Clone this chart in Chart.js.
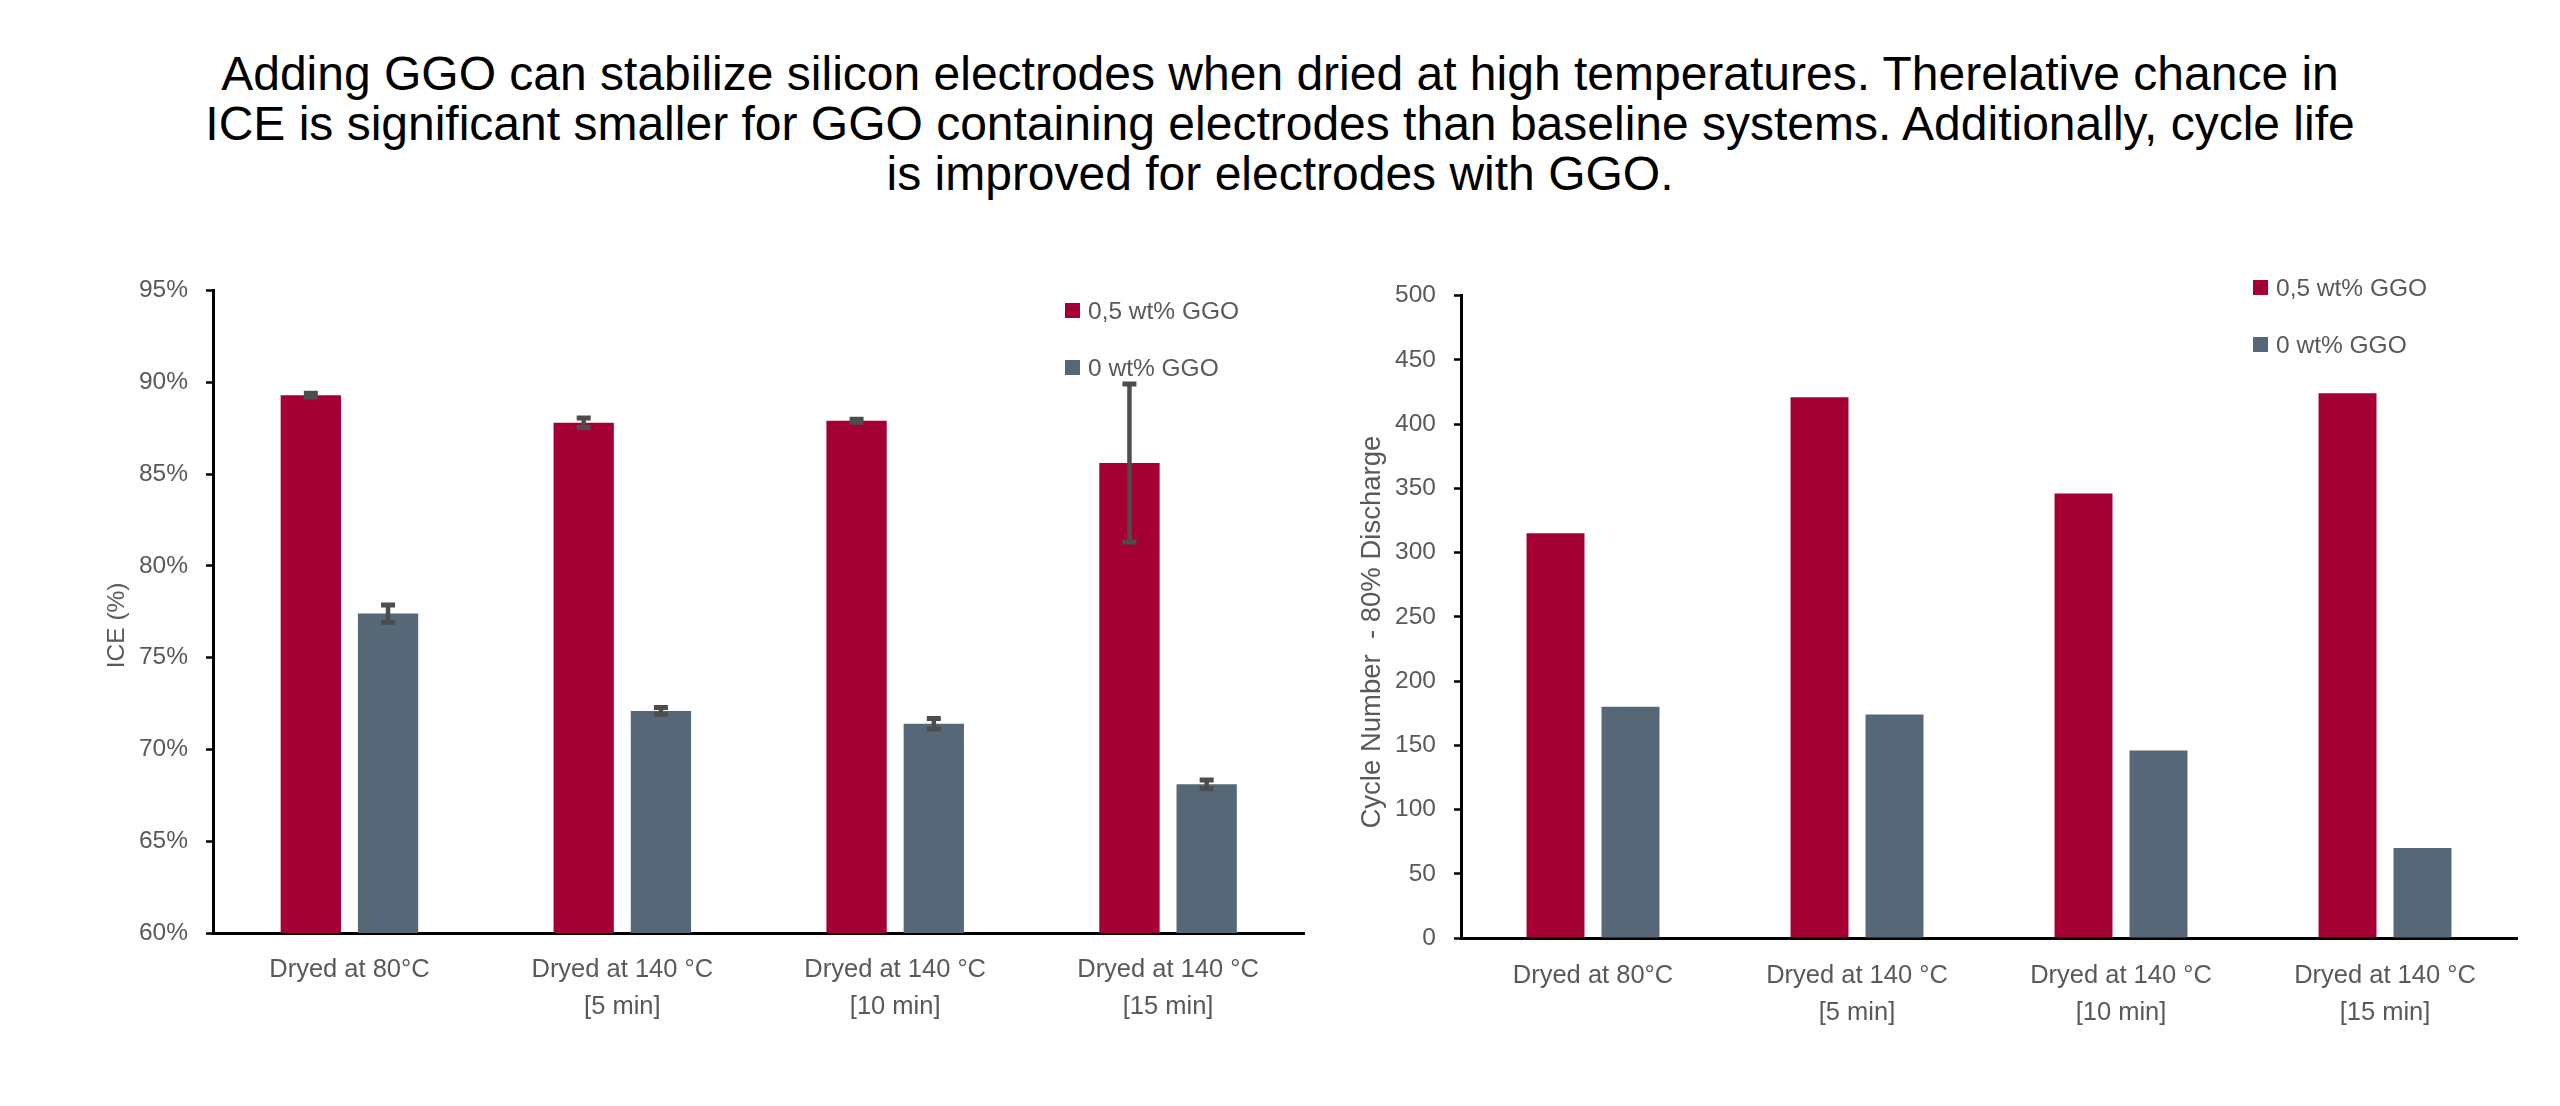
<!DOCTYPE html>
<html><head><meta charset="utf-8">
<script src="https://cdn.jsdelivr.net/npm/chart.js@4.4.1/dist/chart.umd.min.js"></script>
<style>
html,body{margin:0;padding:0;background:#fff;width:2560px;height:1106px;overflow:hidden;position:relative;font-family:"Liberation Sans",Arial,sans-serif;}
#title{position:absolute;left:0;top:48.5px;width:2560px;text-align:center;font-size:48px;line-height:50px;color:#000;}
canvas{position:absolute;}
.lg{position:absolute;white-space:nowrap;font-size:24.5px;color:#595959;line-height:30px;transform:translateY(-50%);}
.lg span.sw{display:inline-block;width:15px;height:15px;margin-right:8px;vertical-align:middle;position:relative;top:-2px;}
</style></head>
<body>
<div id="title">Adding GGO can stabilize silicon electrodes when dried at high temperatures. Therelative chance in<br>ICE is significant smaller for GGO containing electrodes than baseline systems. Additionally, cycle life<br>is improved for electrodes with GGO.</div>
<canvas id="c1" width="1270" height="810" style="left:60px;top:250px;width:1270px;height:810px"></canvas>
<canvas id="c2" width="1230" height="810" style="left:1330px;top:250px;width:1230px;height:810px"></canvas>
<script>
// ---- data ----
const categories = [['Dryed at 80°C'], ['Dryed at 140 °C', '[5 min]'], ['Dryed at 140 °C', '[10 min]'], ['Dryed at 140 °C', '[15 min]']];
const seriesNames = ['0,5 wt% GGO', '0 wt% GGO'];
const seriesColors = ['#A50034', '#566878'];
const iceGGO = [89.3, 87.8, 87.9, 85.6];
const iceGGOErr = [0.1, 0.26, 0.08, 4.3];
const iceBase = [77.4, 72.1, 71.4, 68.1];
const iceBaseErr = [0.47, 0.19, 0.29, 0.24];
const cycleGGO = [315, 421, 346, 424];
const cycleBase = [180, 174, 146, 70];
const iceAxis = {min: 60, max: 95, step: 5, title: 'ICE (%)    '};
const cycleAxis = {min: 0, max: 500, step: 50, title: 'Cycle Number  - 80% Discharge    '};

const FONT = '"Liberation Sans", Arial, sans-serif';
const GREY = '#595959';

const errorBars = {
  id: 'errorBars',
  afterDatasetsDraw(chart) {
    const ctx = chart.ctx, ys = chart.scales.y;
    chart.data.datasets.forEach((ds, di) => {
      if (!ds.errors) return;
      const meta = chart.getDatasetMeta(di);
      meta.data.forEach((bar, i) => {
        const v = ds.data[i], e = ds.errors[i];
        const top = ys.getPixelForValue(v + e), bot = ys.getPixelForValue(v - e);
        const x = bar.x;
        ctx.save();
        ctx.strokeStyle = '#4d4d4d';
        ctx.lineWidth = 4.5;
        ctx.beginPath(); ctx.moveTo(x, top); ctx.lineTo(x, bot); ctx.stroke();
        ctx.lineWidth = 5;
        ctx.beginPath();
        ctx.moveTo(x - 7, top); ctx.lineTo(x + 7, top);
        ctx.moveTo(x - 7, bot); ctx.lineTo(x + 7, bot);
        ctx.stroke();
        ctx.restore();
      });
    });
  }
};

function makeChart(id, d1, d2, e1, e2, axis, geo, fmt) {
  const ds = [
    {label: seriesNames[0], data: d1, backgroundColor: seriesColors[0], errors: e1,
     categoryPercentage: geo.cat, barPercentage: geo.bar},
    {label: seriesNames[1], data: d2, backgroundColor: seriesColors[1], errors: e2,
     categoryPercentage: geo.cat, barPercentage: geo.bar}
  ];
  return new Chart(document.getElementById(id), {
    type: 'bar',
    data: {labels: categories, datasets: ds},
    plugins: [errorBars],
    options: {
      responsive: false, animation: false, devicePixelRatio: 1,
      layout: {padding: {top: geo.padTop, right: geo.padRight, left: 0, bottom: 0}},
      plugins: {legend: {display: false}, tooltip: {enabled: false}},
      scales: {
        x: {
          grid: {display: false, drawTicks: false},
          border: {display: true, color: '#000', width: 3},
          ticks: {color: GREY, padding: geo.xPad, font: {family: FONT, size: 25.5, lineHeight: 1.45}, maxRotation: 0, autoSkip: false},
          afterFit: s => { s.height = geo.xH; }
        },
        y: {
          min: axis.min, max: axis.max,
          grid: {drawOnChartArea: false, drawTicks: true, tickLength: 7, tickColor: '#000', tickWidth: 2.5},
          border: {display: true, color: '#000', width: 3},
          ticks: {stepSize: axis.step, color: GREY, padding: 18, font: {family: FONT, size: 24.5}, callback: fmt},
          title: {display: true, text: axis.title, color: GREY, font: {family: FONT, size: geo.titleSize, lineHeight: 1.2}, padding: {top: geo.titlePad, bottom: 0}},
          afterFit: s => { s.width = geo.yW; }
        }
      }
    }
  });
}

makeChart('c1', iceGGO, iceBase, iceGGOErr, iceBaseErr, iceAxis,
  {cat: 0.566, bar: 0.781, padTop: 40.5, padRight: 25.5, xPad: 18.5, xH: 127, yW: 153, titlePad: 43, titleSize: 24.5},
  v => v + '%');
makeChart('c2', cycleGGO, cycleBase, null, null, cycleAxis,
  {cat: 0.568, bar: 0.773, padTop: 45.7, padRight: 43, xPad: 19.5, xH: 122, yW: 131, titlePad: 25.5, titleSize: 27.5},
  v => String(v));

// ---- legends (HTML text) ----
function legend(x, ys) {
  seriesNames.forEach((n, i) => {
    const d = document.createElement('div');
    d.className = 'lg';
    d.style.left = x + 'px';
    d.style.top = ys[i] + 'px';
    const sw = document.createElement('span');
    sw.className = 'sw';
    sw.style.background = seriesColors[i];
    d.appendChild(sw);
    d.appendChild(document.createTextNode(n));
    document.body.appendChild(d);
  });
}
legend(1065, [310.5, 367.5]);
legend(2253, [288, 345]);
</script>
</body></html>
